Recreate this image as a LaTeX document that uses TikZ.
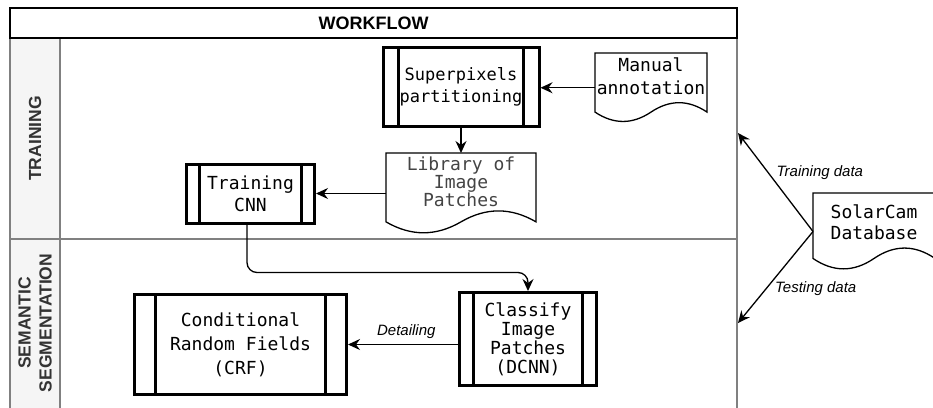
\documentclass[tikz,border=0pt]{standalone}
\usepackage{fontspec}
\setmainfont{Liberation Sans}
\setmonofont{DejaVu Sans Mono}
\usetikzlibrary{calc}
\usetikzlibrary{positioning}
\usetikzlibrary{arrows.meta}

\definecolor{lanefill}{HTML}{F5F5F5}
\definecolor{laneline}{HTML}{808080}
\definecolor{lanetext}{HTML}{333333}
\definecolor{libtext}{HTML}{444444}

\newcommand{\boxfont}{\ttfamily\fontsize{18}{22}\selectfont}
\newcommand{\docshape}[1]{%
  \draw[line width=1.3pt] let \p1=(#1.north west), \p2=(#1.south east), \n1={\x2-\x1}, \n2={\y1-\y2} in
    (\x1,\y1) -- (\x2,\y1) -- (\x2,\y1-0.85*\n2)
    .. controls (\x1+0.8333*\n1,\y1-0.67*\n2) and (\x1+0.6667*\n1,\y1-0.67*\n2) .. (\x1+0.5*\n1,\y1-0.85*\n2)
    .. controls (\x1+0.3333*\n1,\y1-1.03*\n2) and (\x1+0.1667*\n1,\y1-1.03*\n2) .. (\x1,\y1-0.85*\n2) -- cycle;}

\begin{document}
\begin{tikzpicture}[>={Stealth[length=12pt,width=11pt,inset=4pt]}, x=1pt, y=-1pt, line width=1.3pt,
  procbox/.style={draw, line width=3pt, fill=white, font=\boxfont, align=center, inner sep=2pt,
    path picture={\draw[line width=3pt] let \p1=(path picture bounding box.south west),
      \p2=(path picture bounding box.north east), \n1={0.1*(\x2-\x1)} in
      (\x1+\n1,\y1) -- (\x1+\n1,\y2) (\x2-\n1,\y1) -- (\x2-\n1,\y2);}},
  docbox/.style={draw=none, inner sep=0pt, outer sep=0pt},
  doctext/.style={font=\boxfont, align=center, inner sep=0pt},
  lane/.style={draw=laneline, line width=1.3pt},
  lanelabel/.style={font=\bfseries\fontsize{17.5}{21}\selectfont, text=lanetext, rotate=90, align=center},
  datalabel/.style={font=\itshape\fontsize{15}{18}\selectfont, inner sep=2pt},
  ]
	\useasboundingbox (0,0) rectangle (933,407);

	\draw[lane, fill=lanefill] (10,38) rectangle (60,239);
	\draw[lane] (60,38) rectangle (737,239);
	\draw[lane, fill=lanefill] (10,239) rectangle (60,412);
	\draw[lane] (60,239) rectangle (737,412);
	\draw (10,8) rectangle (737,38);

	\node[font=\bfseries\fontsize{18}{21}\selectfont] (title) at (373.5,23) {WORKFLOW};
	\node[lanelabel] (trlab) at (35,138.5) {TRAINING};
	\node[lanelabel] (selab) at (35,323) {SEMANTIC\\SEGMENTATION};

	\node[procbox, minimum width=156pt, minimum height=79pt, font=\ttfamily\fontsize{17}{22}\selectfont] (sup) at (461,87) {Superpixels\\partitioning};
	\node[procbox, minimum width=128pt, minimum height=59pt] (trcnn) at (250.5,194) {Training\\CNN};
	\node[procbox, minimum width=137pt, minimum height=93pt, font=\ttfamily\fontsize{18}{19}\selectfont] (cls) at (528,339) {Classify\\Image\\Patches\\(DCNN)};
	\node[procbox, minimum width=212pt, minimum height=100pt, font=\ttfamily\fontsize{18}{24}\selectfont] (crf) at (240.5,344.5) {Conditional\\Random Fields\\(CRF)};

	\node[docbox, minimum width=112pt, minimum height=69.5pt,
	  label={[doctext, yshift=12pt, font=\ttfamily\fontsize{18}{23}\selectfont]center:Manual\\annotation}] (manual) at (651,87.75) {};
	\node[docbox, minimum width=150pt, minimum height=81pt,
	  label={[doctext, yshift=11.5pt, text=libtext, font=\ttfamily\fontsize{18}{17.5}\selectfont]center:Library of\\Image\\Patches}] (lib) at (461,193.5) {};
	\node[docbox, minimum width=122pt, minimum height=77pt,
	  label={[doctext, yshift=9pt, font=\ttfamily\fontsize{18}{21}\selectfont]center:SolarCam\\Database}] (solar) at (874,231.5) {};
	\docshape{manual}
	\docshape{lib}
	\docshape{solar}

	\coordinate (trainend) at (738,133);
	\coordinate (testend) at (738,323);

	\draw[->] (manual.west) -- (manual.west -| sup.east);
	\draw[->] (sup.south) -- (lib.north);
	\draw[->] (lib.west) -- (lib.west -| trcnn.east);
	\draw[->, rounded corners=10pt] ([xshift=-3.5pt]trcnn.south) -- ++(0,47.5) -| (cls.north);
	\draw[->] (crf.east -| cls.west) -- node[pos=0.47, above=3pt, datalabel] {Detailing} (crf.east);
	\draw[->] (solar.west) -- node[pos=0.6, right=6pt, datalabel] {Training data} (trainend);
	\draw[->] (solar.west) -- node[pos=0.62, right=6pt, datalabel] {Testing data} (testend);

\end{tikzpicture}
\end{document}
